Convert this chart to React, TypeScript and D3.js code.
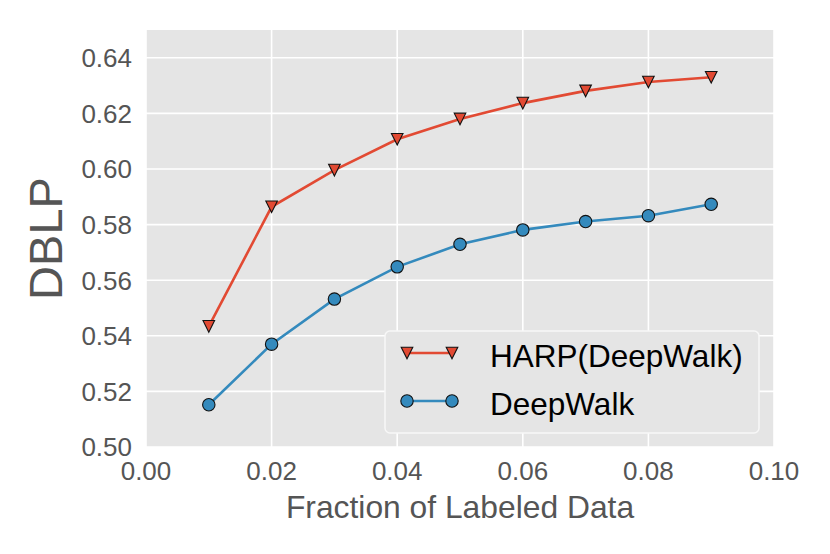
import React from "react";
import * as d3 from "d3";

// fraction of labeled data (x) and scores per method
const fractions = [0.01, 0.02, 0.03, 0.04, 0.05, 0.06, 0.07, 0.08, 0.09];
const harpScores = [0.5434, 0.5864, 0.5996, 0.6107, 0.618, 0.6237, 0.6281, 0.6313, 0.633];
const deepwalkScores = [0.5152, 0.537, 0.5532, 0.5648, 0.5729, 0.5781, 0.5811, 0.5832, 0.5873];
const xTicks = [0.0, 0.02, 0.04, 0.06, 0.08, 0.1];
const yTicks = [0.5, 0.52, 0.54, 0.56, 0.58, 0.6, 0.62, 0.64];
const seriesNames = ["HARP(DeepWalk)", "DeepWalk"];

const RED = "#E24A33";
const BLUE = "#348ABD";
const FONT = "'Liberation Sans', Arial, Helvetica, sans-serif";

const width = 830;
const height = 554;
const margin = { top: 30, right: 56, bottom: 107, left: 146 };

const tri = (x: number, y: number, s: number) =>
  `M${x - s},${y - s}L${x + s},${y - s}L${x},${y + s}Z`;

const App: React.FC = () => {
  const x = d3.scaleLinear().domain([0, 0.1]).range([margin.left, width - margin.right]);
  const y = d3.scaleLinear().domain([0.5, 0.65]).range([height - margin.bottom, margin.top]);

  const line = d3
    .line<number>()
    .x((_, i) => x(fractions[i]))
    .y((d) => y(d));

  const plotW = width - margin.left - margin.right;
  const plotH = height - margin.top - margin.bottom;

  // legend layout
  const lg = { x: 385, y: 331, w: 374, h: 102 };
  const rows = [lg.y + 22, lg.y + 70];

  return (
    <svg
      width={width}
      height={height}
      style={{ position: "absolute", left: 0, top: 0, background: "#fff" }}
      fontFamily={FONT}
    >
      {/* plot background */}
      <rect x={margin.left} y={margin.top} width={plotW} height={plotH} fill="#E5E5E5" />

      {/* grid */}
      {xTicks.map((t) => (
        <line key={"gx" + t} x1={x(t)} x2={x(t)} y1={margin.top} y2={margin.top + plotH} stroke="#fff" strokeWidth={1.6} />
      ))}
      {yTicks.map((t) => (
        <line key={"gy" + t} x1={margin.left} x2={margin.left + plotW} y1={y(t)} y2={y(t)} stroke="#fff" strokeWidth={1.6} />
      ))}

      {/* tick labels */}
      {xTicks.map((t) => (
        <text key={"tx" + t} x={x(t)} y={480} textAnchor="middle" fontSize={26} fill="#555">
          {d3.format(".2f")(t)}
        </text>
      ))}
      {yTicks.map((t) => (
        <text key={"ty" + t} x={132} y={y(t)} dy="0.36em" textAnchor="end" fontSize={26} fill="#555">
          {d3.format(".2f")(t)}
        </text>
      ))}

      {/* axis titles */}
      <text x={margin.left + plotW / 2} y={518} textAnchor="middle" fontSize={31.8} fill="#555">
        Fraction of Labeled Data
      </text>
      <text
        transform={`translate(62, ${margin.top + plotH / 2}) rotate(-90)`}
        textAnchor="middle"
        fontSize={47}
        fill="#555"
      >
        DBLP
      </text>

      {/* HARP series */}
      <path d={line(harpScores) || ""} fill="none" stroke={RED} strokeWidth={2.6} />
      {harpScores.map((v, i) => (
        <path key={"h" + i} d={tri(x(fractions[i]), y(v), 5.8)} fill={RED} stroke="#111" strokeWidth={1.1} />
      ))}

      {/* DeepWalk series */}
      <path d={line(deepwalkScores) || ""} fill="none" stroke={BLUE} strokeWidth={2.6} />
      {deepwalkScores.map((v, i) => (
        <circle key={"d" + i} cx={x(fractions[i])} cy={y(v)} r={6.2} fill={BLUE} stroke="#111" strokeWidth={1.1} />
      ))}

      {/* legend */}
      <rect x={lg.x} y={lg.y} width={lg.w} height={lg.h} rx={5} fill="#E5E5E5" stroke="#f7f7f7" strokeWidth={1.5} />
      {seriesNames.map((name, i) => {
        const cy = rows[i];
        const color = i === 0 ? RED : BLUE;
        return (
          <g key={name}>
            <line x1={407} x2={452} y1={cy} y2={cy} stroke={color} strokeWidth={2.4} />
            {i === 0 ? (
              <>
                <path d={tri(407, cy, 5.8)} fill={RED} stroke="#111" strokeWidth={1.1} />
                <path d={tri(452, cy, 5.8)} fill={RED} stroke="#111" strokeWidth={1.1} />
              </>
            ) : (
              <>
                <circle cx={407} cy={cy} r={6.2} fill={BLUE} stroke="#111" strokeWidth={1.1} />
                <circle cx={452} cy={cy} r={6.2} fill={BLUE} stroke="#111" strokeWidth={1.1} />
              </>
            )}
            <text x={490} y={cy + 13.8} fontSize={31.5} fill="#000">
              {name}
            </text>
          </g>
        );
      })}
    </svg>
  );
};

export default App;
